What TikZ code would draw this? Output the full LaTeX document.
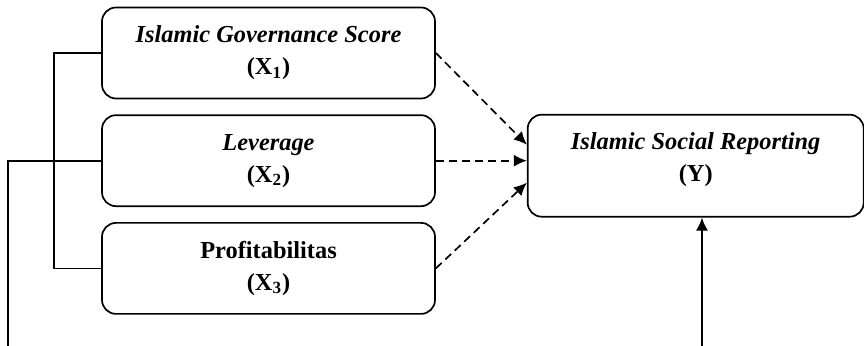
\documentclass[tikz,border=0pt]{standalone}
\usepackage{fontspec}
\setmainfont{Liberation Serif}
\usetikzlibrary{positioning,arrows.meta}

\tikzset{
	varbox/.style={draw, rounded corners=7pt, line width=0.85pt, align=center,
		minimum width=166.5pt, minimum height=45.5pt, inner sep=0pt,
		font=\fontsize{12.2}{16}\selectfont\bfseries},
	depbox/.style={varbox, minimum width=168pt, minimum height=51pt, text depth=9pt},
	link/.style={line width=0.85pt},
	effect/.style={link, dashed, dash pattern=on 4pt off 2.5pt, -{Latex[length=6.5pt,width=6pt]}},
}

\begin{document}
\begin{tikzpicture}[
		node distance=7.5pt,
	]
		\useasboundingbox (0,0) rectangle (432pt,-173pt);
		\node [varbox] (igs) at (134.25pt,-26.5pt) {\itshape Islamic Governance Score\\(X\textsubscript{1})};
		\node [varbox, below=of igs] (lev) {\itshape Leverage\\(X\textsubscript{2})};
		\node [varbox, below=of lev] (prof) {Profitabilitas\\(X\textsubscript{3})};
		\node [depbox, right=45.5pt of lev, yshift=-2.5pt] (isr) {\itshape Islamic Social Reporting\\(Y)};
		\coordinate (isrin) at (isr.west |- lev.east);
		\coordinate [above=8pt of isrin] (isrin1);
		\coordinate [below=11pt of isrin] (isrin3);
		\coordinate (lowL) at (4pt,-173pt);
		\coordinate (lowR) at (351pt,-173pt);

		% left connectors
		\draw [link] (igs.west) -- ++(-23.5pt,0) |- (prof.west);
		\draw [link] (lev.west) -| (lowL);

		% effects on Y
		\draw [effect] (igs.east) -- (isrin1);
		\draw [effect] (lev.east) -- (isrin);
		\draw [effect] (prof.east) -- (isrin3);
		\draw [link, -{Latex[length=6.5pt,width=6pt]}] (lowR) -- (lowR |- isr.south);
	\end{tikzpicture}
\end{document}
